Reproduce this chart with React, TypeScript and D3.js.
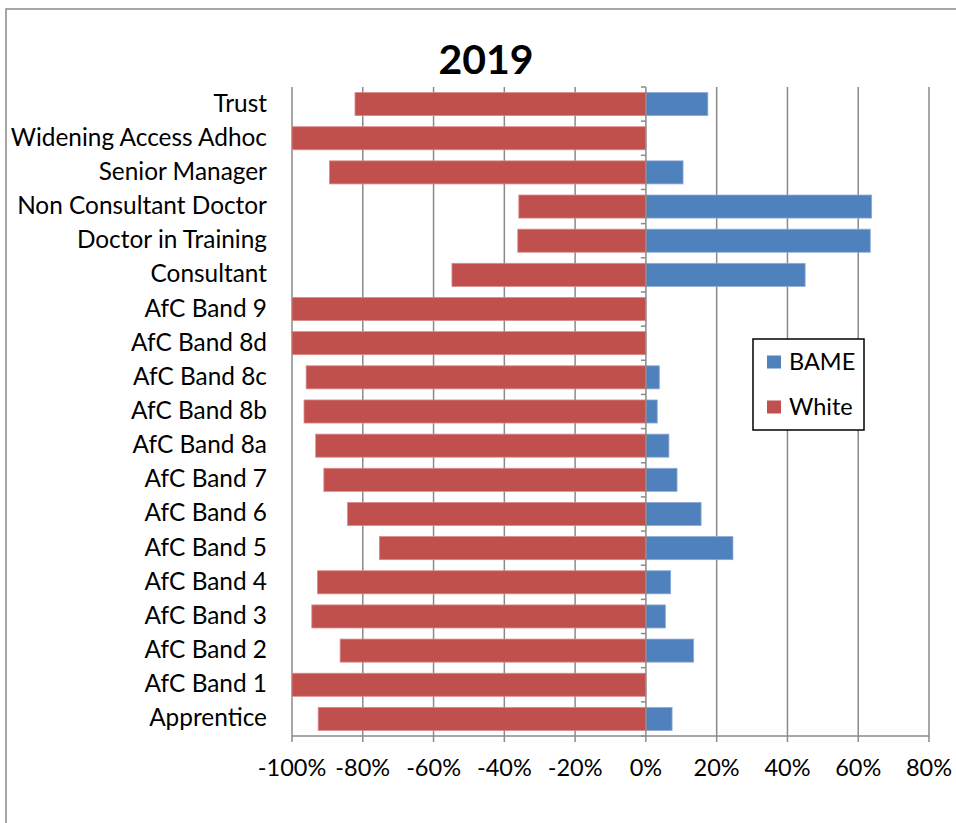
import React, { useEffect, useRef } from 'react';
import * as d3 from 'd3';

const categories = [
  'Trust', 'Widening Access Adhoc', 'Senior Manager', 'Non Consultant Doctor', 'Doctor in Training',
  'Consultant', 'AfC Band 9', 'AfC Band 8d', 'AfC Band 8c', 'AfC Band 8b', 'AfC Band 8a',
  'AfC Band 7', 'AfC Band 6', 'AfC Band 5', 'AfC Band 4', 'AfC Band 3', 'AfC Band 2',
  'AfC Band 1', 'Apprentice',
];
// White shown as negative share
const whiteValues = [-82.2, -100, -89.4, -35.9, -36.2, -54.8, -100, -100, -96.0, -96.6, -93.3, -91.0, -84.3, -75.3, -92.8, -94.4, -86.4, -100, -92.6];
const bameValues = [17.5, 0, 10.5, 63.8, 63.4, 45.0, 0, 0, 3.8, 3.2, 6.5, 8.8, 15.6, 24.6, 7.0, 5.5, 13.5, 0, 7.4];
const tickValues = [-100, -80, -60, -40, -20, 0, 20, 40, 60, 80];
const seriesNames = ['BAME', 'White'];
const colors: Record<string, string> = { BAME: '#4f81bd', White: '#c0504d' };

const W = 956;
const H = 823;
const FONT = 'Lato, "Liberation Sans", sans-serif';

const App: React.FC = () => {
  const svgRef = useRef<SVGSVGElement>(null);

  useEffect(() => {
    if (!svgRef.current) return;
    const svg = d3.select(svgRef.current);
    svg.selectAll('*').remove();

    const left = 292, right = 929, top = 87, bottom = 736;

    const x = d3.scaleLinear().domain([-100, 80]).range([left, right]);
    const y = d3.scaleBand<string>()
      .domain(categories)
      .range([top, bottom])
      .paddingInner(0.325)
      .paddingOuter(0.1625);

    // outer chart border
    svg.append('rect')
      .attr('x', 6).attr('y', 9)
      .attr('width', W + 20).attr('height', H + 20)
      .attr('fill', 'white')
      .attr('stroke', '#8a8a8a')
      .attr('stroke-width', 1.5);

    // title
    svg.append('text')
      .attr('x', 486).attr('y', 74)
      .attr('text-anchor', 'middle')
      .attr('font-family', FONT)
      .attr('font-weight', 'bold')
      .attr('font-size', 41)
      .text('2019');

    // gridlines (extend below axis as tick marks)
    svg.append('g').selectAll('line')
      .data(tickValues.filter(t => t !== 0))
      .enter().append('line')
      .attr('x1', d => x(d)).attr('x2', d => x(d))
      .attr('y1', top).attr('y2', bottom + 6)
      .attr('stroke', '#8a8a8a')
      .attr('stroke-width', 1.5);

    // bars
    const rows = categories.map((c, i) => ({ c, white: whiteValues[i], bame: bameValues[i] }));
    svg.append('g').selectAll('rect')
      .data(rows)
      .enter().append('rect')
      .attr('x', d => x(d.white))
      .attr('y', d => y(d.c)!)
      .attr('width', d => x(0) - x(d.white))
      .attr('height', y.bandwidth())
      .attr('fill', colors.White)
      .attr('stroke', '#d88a88')
      .attr('stroke-width', 0.8);
    svg.append('g').selectAll('rect')
      .data(rows.filter(d => d.bame > 0))
      .enter().append('rect')
      .attr('x', x(0))
      .attr('y', d => y(d.c)!)
      .attr('width', d => x(d.bame) - x(0))
      .attr('height', y.bandwidth())
      .attr('fill', colors.BAME)
      .attr('stroke', '#8eaad6')
      .attr('stroke-width', 0.8);

    // category axis at zero
    svg.append('line')
      .attr('x1', x(0)).attr('x2', x(0))
      .attr('y1', top).attr('y2', bottom + 6)
      .attr('stroke', '#8a8a8a').attr('stroke-width', 1.5);
    const step = y.step();
    svg.append('g').selectAll('line')
      .data(d3.range(categories.length + 1))
      .enter().append('line')
      .attr('x1', x(0) - 5).attr('x2', x(0))
      .attr('y1', i => top + i * step).attr('y2', i => top + i * step)
      .attr('stroke', '#8a8a8a').attr('stroke-width', 1.5);

    // value axis line
    svg.append('line')
      .attr('x1', left).attr('x2', right)
      .attr('y1', bottom).attr('y2', bottom)
      .attr('stroke', '#8a8a8a').attr('stroke-width', 1.5);

    // tick labels
    svg.append('g').selectAll('text')
      .data(tickValues)
      .enter().append('text')
      .attr('x', d => x(d))
      .attr('y', 776)
      .attr('text-anchor', 'middle')
      .attr('font-family', FONT)
      .attr('font-size', 23.5)
      .text(d => `${d}%`);

    // category labels
    svg.append('g').selectAll('text')
      .data(categories)
      .enter().append('text')
      .attr('x', 267)
      .attr('y', d => y(d)! + y.bandwidth() / 2 + 7.5)
      .attr('text-anchor', 'end')
      .attr('font-family', FONT)
      .attr('font-size', 24.4)
      .text(d => d);

    // legend
    const lg = svg.append('g');
    lg.append('rect')
      .attr('x', 753).attr('y', 339)
      .attr('width', 111).attr('height', 91)
      .attr('fill', 'white')
      .attr('stroke', 'black')
      .attr('stroke-width', 1.5);
    seriesNames.forEach((s, i) => {
      const cy = 362 + i * 45;
      lg.append('rect')
        .attr('x', 767).attr('y', cy - 6.5)
        .attr('width', 14).attr('height', 13)
        .attr('fill', colors[s]);
      lg.append('text')
        .attr('x', 789).attr('y', cy + 8)
        .attr('font-family', FONT)
        .attr('font-size', 23.5)
        .text(s);
    });
  }, []);

  return (
    <svg
      ref={svgRef}
      width={W}
      height={H}
      style={{ position: 'absolute', left: 0, top: 0, display: 'block' }}
    />
  );
};

export default App;
